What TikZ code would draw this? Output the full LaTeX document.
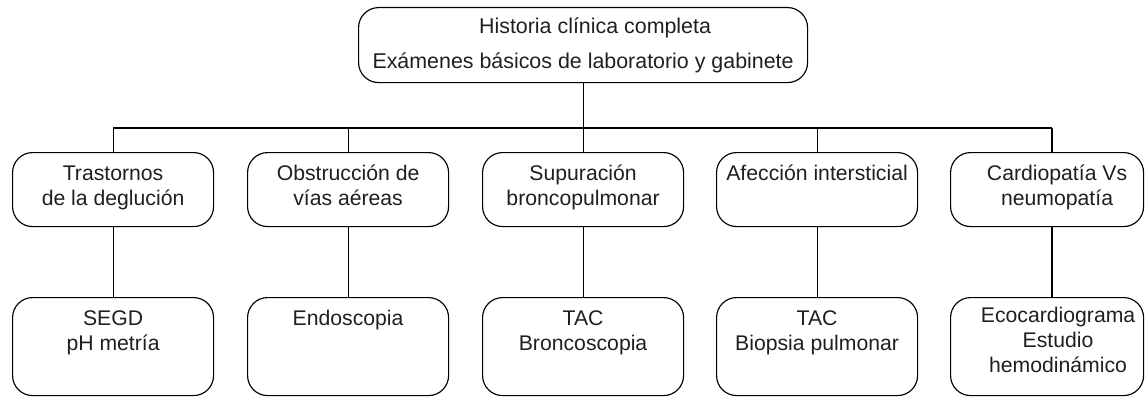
\documentclass[tikz,border=0pt]{standalone}
\usepackage{fontspec}
\setmainfont{Liberation Sans}
\newcommand{\bx}[6][0pt]{\parbox[t][#2pt][t]{#3pt}{\centering\leftskip=#1 plus 1fil\fontsize{21.2}{#5pt}\selectfont\rule{0pt}{#4pt}#6}}
\begin{document}
\begin{tikzpicture}[x=1pt,y=-1pt,
  rbox/.style={draw, line width=1.15pt, rounded corners=20pt, inner sep=0pt, anchor=north west, text=black!88},
  conn/.style={line width=1.15pt}]
\useasboundingbox (0,0) rectangle (1145,396);
% top
\node[rbox] (top) at (358,7) {\parbox[t][75pt][t]{449pt}{\centering\fontsize{21.4}{35pt}\selectfont\rule{0pt}{26pt}\hspace*{24pt}Historia clínica completa\\Exámenes básicos de laboratorio y gabinete}};
% middle row
\node[rbox] (m1) at (12,152)  {\bx{74}{201}{28}{25}{Trastornos\\de la deglución}};
\node[rbox] (m2) at (247,152) {\bx{74}{201}{28}{25}{Obstrucción de\\vías aéreas}};
\node[rbox] (m3) at (482,152) {\bx{74}{201}{28}{25}{Supuración\\broncopulmonar}};
\node[rbox] (m4) at (716,152) {\bx{74}{201}{28}{25}{Afección intersticial}};
\node[rbox] (m5) at (950,152) {\bx[20pt]{74}{193}{28}{25}{Cardiopatía Vs\\neumopatía}};
% bottom row
\node[rbox] (b1) at (12,297)  {\bx{98}{201}{28}{25}{SEGD\\pH metría}};
\node[rbox] (b2) at (247,297) {\bx{98}{201}{28}{25}{Endoscopia}};
\node[rbox] (b3) at (482,297) {\bx{98}{201}{28}{25}{TAC\\Broncoscopia}};
\node[rbox] (b4) at (716,297) {\bx{98}{201}{28}{25}{TAC\\Biopsia pulmonar}};
\node[rbox] (b5) at (950,297) {\bx[22pt]{98}{193}{25}{25}{Ecocardiograma\\Estudio\\hemodinámico}};
% connector positions
\coordinate (bus) at (0,128);
\coordinate (x5) at (1052,0);
\draw[conn] (top.south) -- (top.south |- bus);
\draw[conn] (m1.north |- bus) -- (x5 |- bus);
\foreach \i in {1,2,3,4}{
  \draw[conn] (m\i.north |- bus) -- (m\i.north);
  \draw[conn] (m\i.south) -- (b\i.north);
}
\draw[conn] (x5 |- bus) -- (x5 |- m5.north);
\draw[conn] (x5 |- m5.south) -- (x5 |- b5.north);
\end{tikzpicture}
\end{document}
